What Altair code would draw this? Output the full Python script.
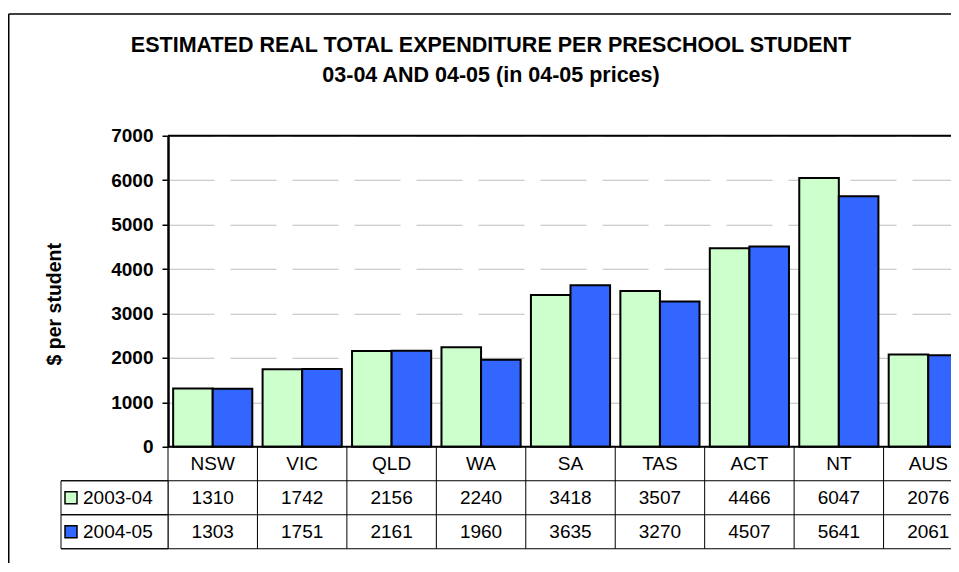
import altair as alt
import pandas as pd

categories = ["NSW", "VIC", "QLD", "WA", "SA", "TAS", "ACT", "NT", "AUS"]
series = ["2003-04", "2004-05"]
v2003 = [1310, 1742, 2156, 2240, 3418, 3507, 4466, 6047, 2076]
v2004 = [1303, 1751, 2161, 1960, 3635, 3270, 4507, 5641, 2061]
colors = ["#CCFFCC", "#3366FF"]
y_ticks = [0, 1000, 2000, 3000, 4000, 5000, 6000, 7000]
title_lines = ["ESTIMATED REAL TOTAL EXPENDITURE PER PRESCHOOL STUDENT",
               "03-04 AND 04-05 (in 04-05 prices)"]
y_title = "$ per student"

FONT = "Liberation Sans"

# layout (pixels)
W, H = 783, 311          # visible plot area (clipped at window edge)
FULL_W = 805             # full width of the category axis
TAB_H = 102              # data table height
PAD = {"left": 160, "top": 127.75, "right": 0, "bottom": 116}

rows = []
for c, a, b in zip(categories, v2003, v2004):
    rows.append({"cat": c, "series": series[0], "value": a})
    rows.append({"cat": c, "series": series[1], "value": b})
df = pd.DataFrame(rows)

row_order = ["hdr"] + series
tab_rows = [{"cat": c, "row": "hdr", "text": c} for c in categories]
for r in rows:
    tab_rows.append({"cat": r["cat"], "row": r["series"], "text": str(r["value"])})
tdf = pd.DataFrame(tab_rows)
leg_df = pd.DataFrame({"row": series, "label": series})
cat_df = pd.DataFrame({"cat": categories})
one = pd.DataFrame({"k": [0]})

xscale = alt.Scale(domain=categories, range=[0, FULL_W], paddingInner=0, paddingOuter=0)
cscale = alt.Scale(domain=series, range=colors)
rscale = alt.Scale(domain=row_order, range=[H, H + TAB_H], paddingInner=0, paddingOuter=0)

bars = alt.Chart(df).mark_bar(stroke="black", strokeWidth=2).encode(
    x=alt.X("cat:N", sort=categories, scale=xscale, axis=None),
    xOffset=alt.XOffset("series:N", sort=series,
                        scale=alt.Scale(domain=series, paddingInner=0, paddingOuter=0.13)),
    y=alt.Y("value:Q", scale=alt.Scale(domain=[0, 7000], nice=False),
            axis=alt.Axis(values=y_ticks, format="d", title=y_title, titleFont=FONT,
                          titleFontSize=19.5, titleFontWeight="bold", titleColor="black",
                          titleAngle=270, titleAlign="center", titleBaseline="middle",
                          titleX=-114, titleY=168,
                          labelFont=FONT, labelFontSize=19, labelFontWeight="bold",
                          labelColor="black", labelPadding=9,
                          tickSize=6, tickColor="black", tickWidth=1.5,
                          domainColor="black", domainWidth=2.5,
                          grid=True, gridColor="#BDBDBD", gridWidth=1,
                          gridDash=[46, 16])),
    color=alt.Color("series:N", scale=cscale, legend=None),
)

frame_top = alt.Chart(one).mark_rule(color="black", strokeWidth=2).encode(y=alt.value(0))
frame_bot = alt.Chart(one).mark_rule(color="black", strokeWidth=2).encode(y=alt.value(H))

border_top = alt.Chart(one).mark_rule(color="black", strokeWidth=1.5).encode(
    x=alt.value(-159.25), x2=alt.value(W + 5), y=alt.value(-121.75))
border_left = alt.Chart(one).mark_rule(color="black", strokeWidth=1.5).encode(
    x=alt.value(-159.25), y=alt.value(-121.75), y2=alt.value(H + PAD["bottom"] + 5))

title = alt.Chart(one).mark_text(font=FONT, fontSize=21.5, fontWeight="bold",
                                 color="black", align="center", baseline="alphabetic",
                                 lineHeight=30).encode(
    x=alt.value(323), y=alt.value(-83.75), text=alt.value(title_lines))

vlines = alt.Chart(cat_df).mark_rule(color="black", strokeWidth=1).encode(
    x=alt.X("cat:N", sort=categories, scale=xscale, bandPosition=0, axis=None),
    y=alt.value(H), y2=alt.value(H + TAB_H))

leg_box = alt.Chart(leg_df).mark_rect(fill="white", stroke="black", strokeWidth=1).encode(
    y=alt.Y("row:N", sort=row_order, scale=rscale, axis=None),
    x=alt.value(-107), x2=alt.value(0))

hlines_top = alt.Chart(leg_df).mark_rule(color="black", strokeWidth=1).encode(
    y=alt.Y("row:N", sort=row_order, scale=rscale, axis=None, bandPosition=0),
    x=alt.value(-107), x2=alt.value(W + 5))

hline_bot = alt.Chart(leg_df[leg_df["row"] == series[-1]]).mark_rule(
    color="black", strokeWidth=1).encode(
    y=alt.Y("row:N", sort=row_order, scale=rscale, axis=None, bandPosition=1),
    x=alt.value(-107), x2=alt.value(W + 5))

leg_sq = alt.Chart(leg_df).mark_square(size=144, stroke="black", strokeWidth=1.5,
                                       opacity=1).encode(
    y=alt.Y("row:N", sort=row_order, scale=rscale, axis=None),
    x=alt.value(-97),
    fill=alt.Fill("row:N", scale=cscale, legend=None))

leg_txt = alt.Chart(leg_df).mark_text(align="left", baseline="middle", font=FONT,
                                      fontSize=19, color="black").encode(
    y=alt.Y("row:N", sort=row_order, scale=rscale, axis=None),
    x=alt.value(-85), text="label:N")

cells = alt.Chart(tdf).mark_text(baseline="middle", font=FONT, fontSize=19,
                                 color="black").encode(
    x=alt.X("cat:N", sort=categories, scale=xscale, axis=None),
    y=alt.Y("row:N", sort=row_order, scale=rscale, axis=None),
    text="text:N",
)

chart = alt.layer(
    bars, frame_top, frame_bot, border_top, border_left, title,
    vlines, leg_box, hlines_top, hline_bot, leg_sq, leg_txt, cells,
).resolve_scale(y="independent", fill="independent").properties(
    width=W, height=H,
    padding=PAD,
    autosize=alt.AutoSizeParams(type="none"),
    background="white",
    view=alt.ViewBackground(stroke=None),
)

chart.save("out.html", embed_options={"renderer": "svg", "actions": False})
